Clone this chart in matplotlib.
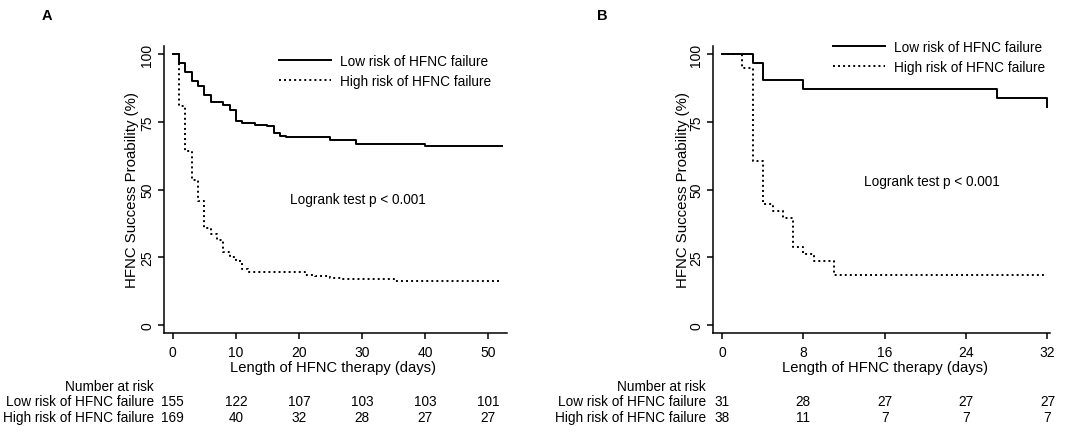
import matplotlib
matplotlib.use("Agg")
import matplotlib.pyplot as plt

plt.rcParams['font.family'] = ['Liberation Sans', 'DejaVu Sans']

# ---------------- data ----------------
groups = ["Low risk of HFNC failure", "High risk of HFNC failure"]

# Panel A
a_low_t = [0, 1, 2, 3, 4, 5, 6, 8, 9, 10, 11, 13, 15, 16, 17, 18, 25, 29, 40, 52.2]
a_low_s = [100, 96.6, 93.5, 90.2, 88.3, 85.0, 82.5, 81.2, 79.4, 75.2, 74.6, 74.0,
           73.4, 70.9, 69.9, 69.5, 68.1, 66.8, 66.2, 66.2]
a_high_t = [0, 1, 2, 3, 4, 5, 6, 7, 8, 9, 10, 11, 12, 21, 22.5, 25, 27, 35, 52]
a_high_s = [100, 81.0, 64.4, 53.4, 45.6, 35.7, 33.5, 31.5, 27.0, 25.0, 23.5, 20.5,
            19.4, 18.6, 17.9, 17.3, 16.9, 16.3, 16.3]
a_ticks = [0, 10, 20, 30, 40, 50]
a_risk_low = [155, 122, 107, 103, 103, 101]
a_risk_high = [169, 40, 32, 28, 27, 27]

# Panel B
b_low_t = [0, 3, 4, 8, 27, 32]
b_low_s = [100, 96.8, 90.3, 87.1, 83.9, 80.6]
b_high_t = [0, 2, 3, 4, 5, 6, 7, 8, 9, 11, 32]
b_high_s = [100, 94.7, 60.5, 44.7, 42.1, 39.5, 28.9, 26.3, 23.7, 18.4, 18.4]
b_ticks = [0, 8, 16, 24, 32]
b_risk_low = [31, 28, 27, 27, 27]
b_risk_high = [38, 11, 7, 7, 7]

y_ticks = [0, 25, 50, 75, 100]

xlabel = "Length of HFNC therapy (days)"
ylabel = "HFNC Success Proability (%)"
logrank = "Logrank test p < 0.001"

FS = 9.8

fig = plt.figure(figsize=(10.84, 4.35), dpi=100)

def panel(rect, low_t, low_s, high_t, high_s, ticks, xlim, risk_low, risk_high,
          leg_anchor, lr_pos, ylab_x, xlab_x, row_x, letter, letter_x):
    ax = fig.add_axes(rect)
    ax.step(low_t, low_s, where='post', color='black', lw=1.4, label=groups[0])
    ax.step(high_t, high_s, where='post', color='black', lw=1.4,
            linestyle=(0, (1, 1.6)), label=groups[1])
    ax.set_xlim(*xlim)
    ax.set_ylim(-3, 103)
    ax.set_xticks(ticks)
    ax.set_yticks(y_ticks)
    for s in ['top', 'right']:
        ax.spines[s].set_visible(False)
    for s in ['left', 'bottom']:
        ax.spines[s].set_linewidth(1.1)
    ax.tick_params(axis='both', direction='out', length=4, width=1.1,
                   labelsize=10, color='black')
    ax.tick_params(axis='x', pad=5)
    ax.tick_params(axis='y', labelrotation=90, pad=3)
    for lab in ax.get_yticklabels():
        lab.set_va('center')
    ax.set_xlabel(xlabel, fontsize=10.6, va='center')
    ax.xaxis.set_label_coords(xlab_x, -0.118)
    ax.set_ylabel(ylabel, fontsize=10.8, va='center')
    ax.yaxis.set_label_coords(ylab_x, 0.502)
    ax.legend(loc='upper left', bbox_to_anchor=leg_anchor, frameon=False,
              borderpad=0, borderaxespad=0, handlelength=3.8, handletextpad=0.7,
              labelspacing=0.45, fontsize=FS)
    ax.text(lr_pos[0], lr_pos[1], logrank, ha='center', va='center', fontsize=FS)
    # number at risk table
    tr = ax.get_xaxis_transform()
    ax.text(row_x, -0.185, "Number at risk", transform=ax.transAxes,
            ha='right', va='center', fontsize=FS)
    ax.text(row_x, -0.237, groups[0], transform=ax.transAxes,
            ha='right', va='center', fontsize=FS)
    ax.text(row_x, -0.293, groups[1], transform=ax.transAxes,
            ha='right', va='center', fontsize=FS)
    for t, n in zip(ticks, risk_low):
        ax.text(t, -0.237, str(n), transform=tr, ha='center', va='center', fontsize=FS)
    for t, n in zip(ticks, risk_high):
        ax.text(t, -0.293, str(n), transform=tr, ha='center', va='center', fontsize=FS)
    fig.text(letter_x, 1 - 16 / 435, letter, fontsize=10.5, fontweight='bold',
             ha='center', va='center')
    return ax

H = 435.0
W = 1084.0
bottom = 1 - 334 / H
height = (334 - 47) / H

panel([164 / W, bottom, (507 - 164) / W, height],
      a_low_t, a_low_s, a_high_t, a_high_s, a_ticks, (-1.4, 53.0),
      a_risk_low, a_risk_high, (0.335, 0.972), (29.3, 46.5), -0.093, 0.493,
      -0.029, "A", 47 / W)

panel([713 / W, bottom, (1050 - 713) / W, height],
      b_low_t, b_low_s, b_high_t, b_high_s, b_ticks, (-0.885, 32.25),
      b_risk_low, b_risk_high, (0.356, 1.021), (20.6, 53.1), -0.089, 0.51,
      -0.021, "B", 602 / W)

fig.savefig("out.png", dpi=100)
